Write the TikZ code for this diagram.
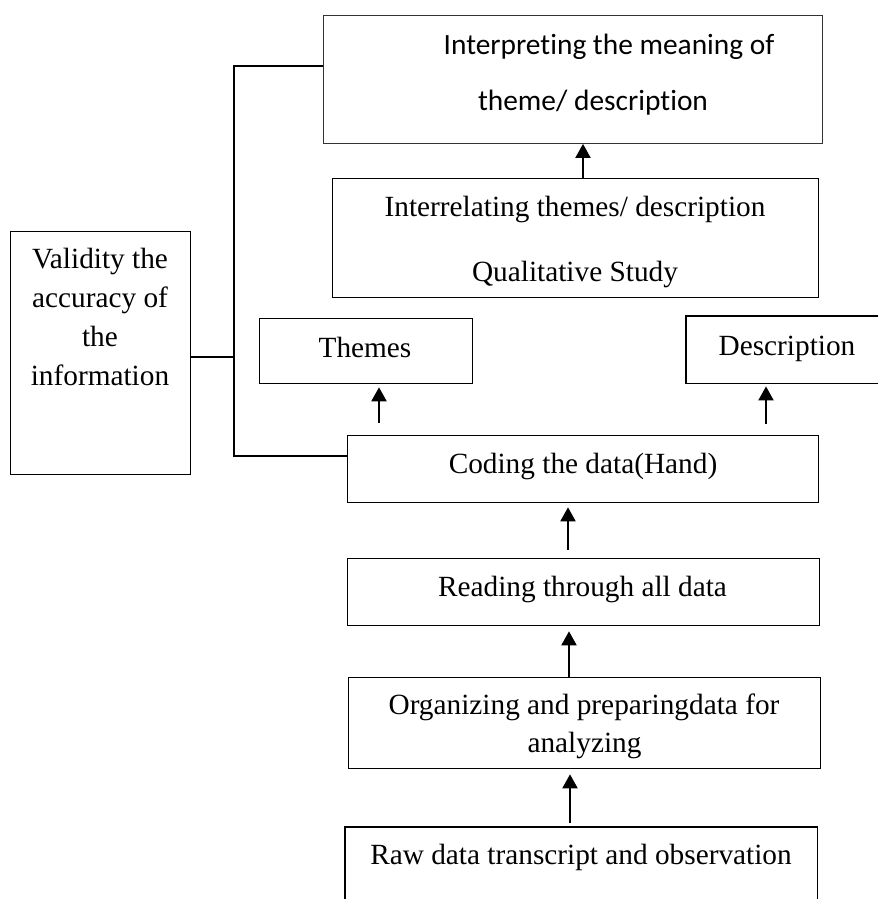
\documentclass[tikz,border=0pt]{standalone}
\usepackage{fontspec}
\setmainfont{Liberation Serif}
\newfontfamily\calib[Ligatures=NoCommon]{Carlito}
\usetikzlibrary{arrows.meta}
\begin{document}
\begin{tikzpicture}[x=1pt,y=1pt,
  box/.style={draw, line width=1.3pt, inner sep=0pt, anchor=north west},
  openbox/.style={draw=none, inner sep=0pt, anchor=north west},
  txt/.style={font=\fontsize{29.3}{39}\selectfont, inner sep=0pt, anchor=base},
  ctxt/.style={font=\calib\fontsize{29.4}{36}\selectfont, inner sep=0pt, anchor=base},
  arr/.style={line width=2pt, -{Triangle[width=15pt,length=14pt]}},
  conn/.style={line width=1.3pt}]
\useasboundingbox (0,0) rectangle (878,-899);

% boxes
\node[box, draw=black!80, line width=0.9pt, minimum width=499pt, minimum height=128pt] (interp) at (323,-15) {};
\node[box, minimum width=486pt, minimum height=119pt] (interrel) at (332,-178) {};
\node[box, minimum width=213pt, minimum height=65pt] (themes) at (259,-318) {};
\node[openbox, minimum width=192pt, minimum height=67pt] (desc) at (686,-316) {};
\draw[line width=1.3pt] (desc.north east) -- (desc.north west) -- (desc.south west) -- (desc.south east);
\node[box, minimum width=471pt, minimum height=67pt] (coding) at (347,-435) {};
\node[box, minimum width=472pt, minimum height=67pt] (reading) at (347,-558) {};
\node[box, minimum width=472pt, minimum height=91pt] (org) at (348,-677) {};
\node[openbox, minimum width=472pt, minimum height=72pt] (raw) at (345,-827) {};
\draw[line width=1.3pt] (raw.south west) -- (raw.north west) -- (raw.north east) -- (raw.south east);
\node[box, minimum width=180pt, minimum height=243pt] (valid) at (10,-231) {};

% texts
\node[ctxt] (interp1) at (609,-55) {Interpreting the meaning of};
\node[ctxt] (interp2) at (593,-110) {theme/ description};
\node[txt] (interrel1) at (575,-216) {Interrelating themes/ description};
\node[txt] (interrel2) at (575,-281) {Qualitative Study};
\node[txt] (themest) at (365,-357) {Themes};
\node[txt] (desct) at (787,-355) {Description};
\node[txt] (codingt) at (583,-473) {Coding the data(Hand)};
\node[txt] (readingt) at (582.5,-596) {Reading through all data};
\node[txt] (org1) at (584,-714) {Organizing and preparingdata for};
\node[txt] (org2) at (584.5,-752) {analyzing};
\node[txt] (rawt) at (581,-864) {Raw data transcript and observation};
\node[txt] (valid1) at (100,-268) {Validity the};
\node[txt] (valid2) at (100,-307) {accuracy of};
\node[txt] (valid3) at (100,-346) {the};
\node[txt] (valid4) at (100,-385) {information};

% helper coordinates
\coordinate (ax1) at (583,0);
\coordinate (ax2) at (379,0);
\coordinate (ax3) at (766,0);
\coordinate (ax4) at (568,0);
\coordinate (ax5) at (569,0);
\coordinate (ax6) at (570,0);
\coordinate (bt) at (234,-66);
\coordinate (bm) at (234,-357);
\coordinate (bb) at (234,-456);

% arrows
\draw[arr] (interrel.north -| ax1) -- (interp.south -| ax1);
\draw[arr, shorten <=12pt, shorten >=3pt] (coding.north -| ax2) -- (themes.south -| ax2);
\draw[arr, shorten <=11pt, shorten >=3pt] (coding.north -| ax3) -- (desc.south -| ax3);
\draw[arr, shorten <=8pt, shorten >=4pt] (reading.north -| ax4) -- (coding.south -| ax4);
\draw[arr, shorten >=5pt] (org.north -| ax5) -- (reading.south -| ax5);
\draw[arr, shorten <=4pt, shorten >=5pt] (raw.north -| ax6) -- (org.south -| ax6);

% connectors
\draw[conn] (bt -| interp.west) -- (bt) -- (bb) -- (bb -| coding.west);
\draw[conn] (bm -| valid.east) -- (bm);
\end{tikzpicture}
\end{document}
